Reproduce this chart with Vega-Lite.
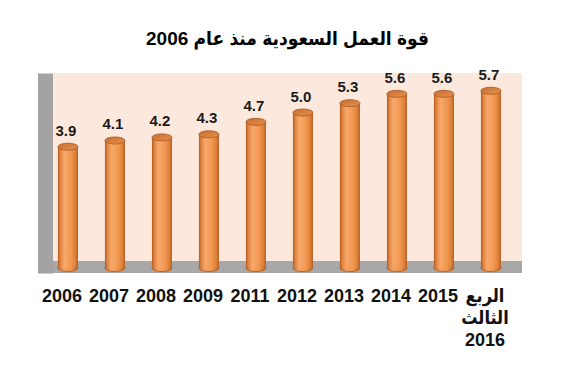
{
  "$schema": "https://vega.github.io/schema/vega-lite/v6.json",
  "autosize": {"type": "none"},
  "width": 469,
  "height": 200,
  "padding": {"left": 53, "top": 73, "right": 48, "bottom": 92},
  "background": "white",
  "config": {
    "view": {"fill": "#fce8dd", "stroke": null},
    "font": "Liberation Sans, DejaVu Sans"
  },
  "title": {
    "text": "قوة العمل السعودية منذ عام 2006",
    "font": "Liberation Sans, DejaVu Sans Condensed",
    "fontSize": 19,
    "fontWeight": "bold",
    "color": "#000000",
    "anchor": "middle",
    "offset": 19
  },
  "data": {
    "values": [
      {"period": "2006", "value": 3.9},
      {"period": "2007", "value": 4.1},
      {"period": "2008", "value": 4.2},
      {"period": "2009", "value": 4.3},
      {"period": "2011", "value": 4.7},
      {"period": "2012", "value": 5.0},
      {"period": "2013", "value": 5.3},
      {"period": "2014", "value": 5.6},
      {"period": "2015", "value": 5.6},
      {"period": "الربع|الثالث|2016", "value": 5.7}
    ]
  },
  "encoding": {
    "x": {
      "field": "period",
      "type": "nominal",
      "sort": null,
      "scale": {"paddingInner": 0.574, "paddingOuter": 0.2766, "align": 0.19},
      "axis": {
        "title": null,
        "domain": false,
        "ticks": false,
        "labelAngle": 0,
        "labelFont": "Liberation Sans, DejaVu Sans Condensed",
        "labelFontSize": 18,
        "labelFontWeight": "bold",
        "labelColor": "#111111",
        "labelPadding": 14,
        "labelOffset": -6,
        "labelLineHeight": 22,
        "labelBaseline": "top",
        "labelExpr": "split(datum.label, '|')"
      }
    }
  },
  "layer": [
    {
      "mark": {"type": "rect", "color": "#a8a8a8"},
      "encoding": {
        "x": null,
        "y": {
          "datum": -0.16,
          "type": "quantitative",
          "scale": {"domain": [-0.16, 6.27], "nice": false, "zero": false},
          "axis": {
            "title": null,
            "labels": false,
            "ticks": false,
            "grid": false,
            "domain": true,
            "domainColor": "#a3a3a3",
            "domainWidth": 15,
            "offset": 8
          }
        },
        "y2": {"datum": 0.225}
      }
    },
    {
      "mark": {
        "type": "point",
        "shape": "M -1 0 A 1 0.35 0 1 1 1 0 A 1 0.35 0 1 1 -1 0 Z",
        "size": 400,
        "filled": true,
        "opacity": 1,
        "fill": {
          "gradient": "linear", "x1": 0, "x2": 1, "y1": 0, "y2": 0,
          "stops": [
            {"offset": 0, "color": "#bf6424"},
            {"offset": 0.3, "color": "#f5a466"},
            {"offset": 0.65, "color": "#f0964e"},
            {"offset": 1, "color": "#bb6022"}
          ]
        },
        "stroke": "#a65a26",
        "strokeWidth": 0.8
      },
      "encoding": {"y": {"datum": 0, "type": "quantitative"}}
    },
    {
      "mark": {
        "type": "bar",
        "color": {
          "gradient": "linear", "x1": 0, "x2": 1, "y1": 0, "y2": 0,
          "stops": [
            {"offset": 0, "color": "#b55a1e"},
            {"offset": 0.12, "color": "#e08440"},
            {"offset": 0.32, "color": "#f7a86b"},
            {"offset": 0.65, "color": "#f19850"},
            {"offset": 0.88, "color": "#dc7e38"},
            {"offset": 1, "color": "#b05a1e"}
          ]
        },
        "strokeWidth": 0
      },
      "encoding": {
        "y": {"field": "value", "type": "quantitative"},
        "y2": {"datum": 0}
      }
    },
    {
      "mark": {
        "type": "point",
        "shape": "M -1 0 A 1 0.35 0 1 1 1 0 A 1 0.35 0 1 1 -1 0 Z",
        "size": 400,
        "filled": true,
        "opacity": 1,
        "fill": {
          "gradient": "linear", "x1": 0, "x2": 1, "y1": 0, "y2": 1,
          "stops": [
            {"offset": 0, "color": "#c86f2e"},
            {"offset": 1, "color": "#e5904f"}
          ]
        },
        "stroke": "#a65a26",
        "strokeWidth": 0.8
      },
      "encoding": {"y": {"field": "value", "type": "quantitative"}}
    },
    {
      "mark": {
        "type": "text",
        "font": "Liberation Sans, DejaVu Sans",
        "fontSize": 15,
        "fontWeight": "bold",
        "color": "#1a1a1a",
        "baseline": "alphabetic",
        "dy": -11,
        "dx": -2
      },
      "encoding": {
        "y": {"field": "value", "type": "quantitative"},
        "text": {"field": "value", "type": "quantitative", "format": ".1f"}
      }
    }
  ]
}
